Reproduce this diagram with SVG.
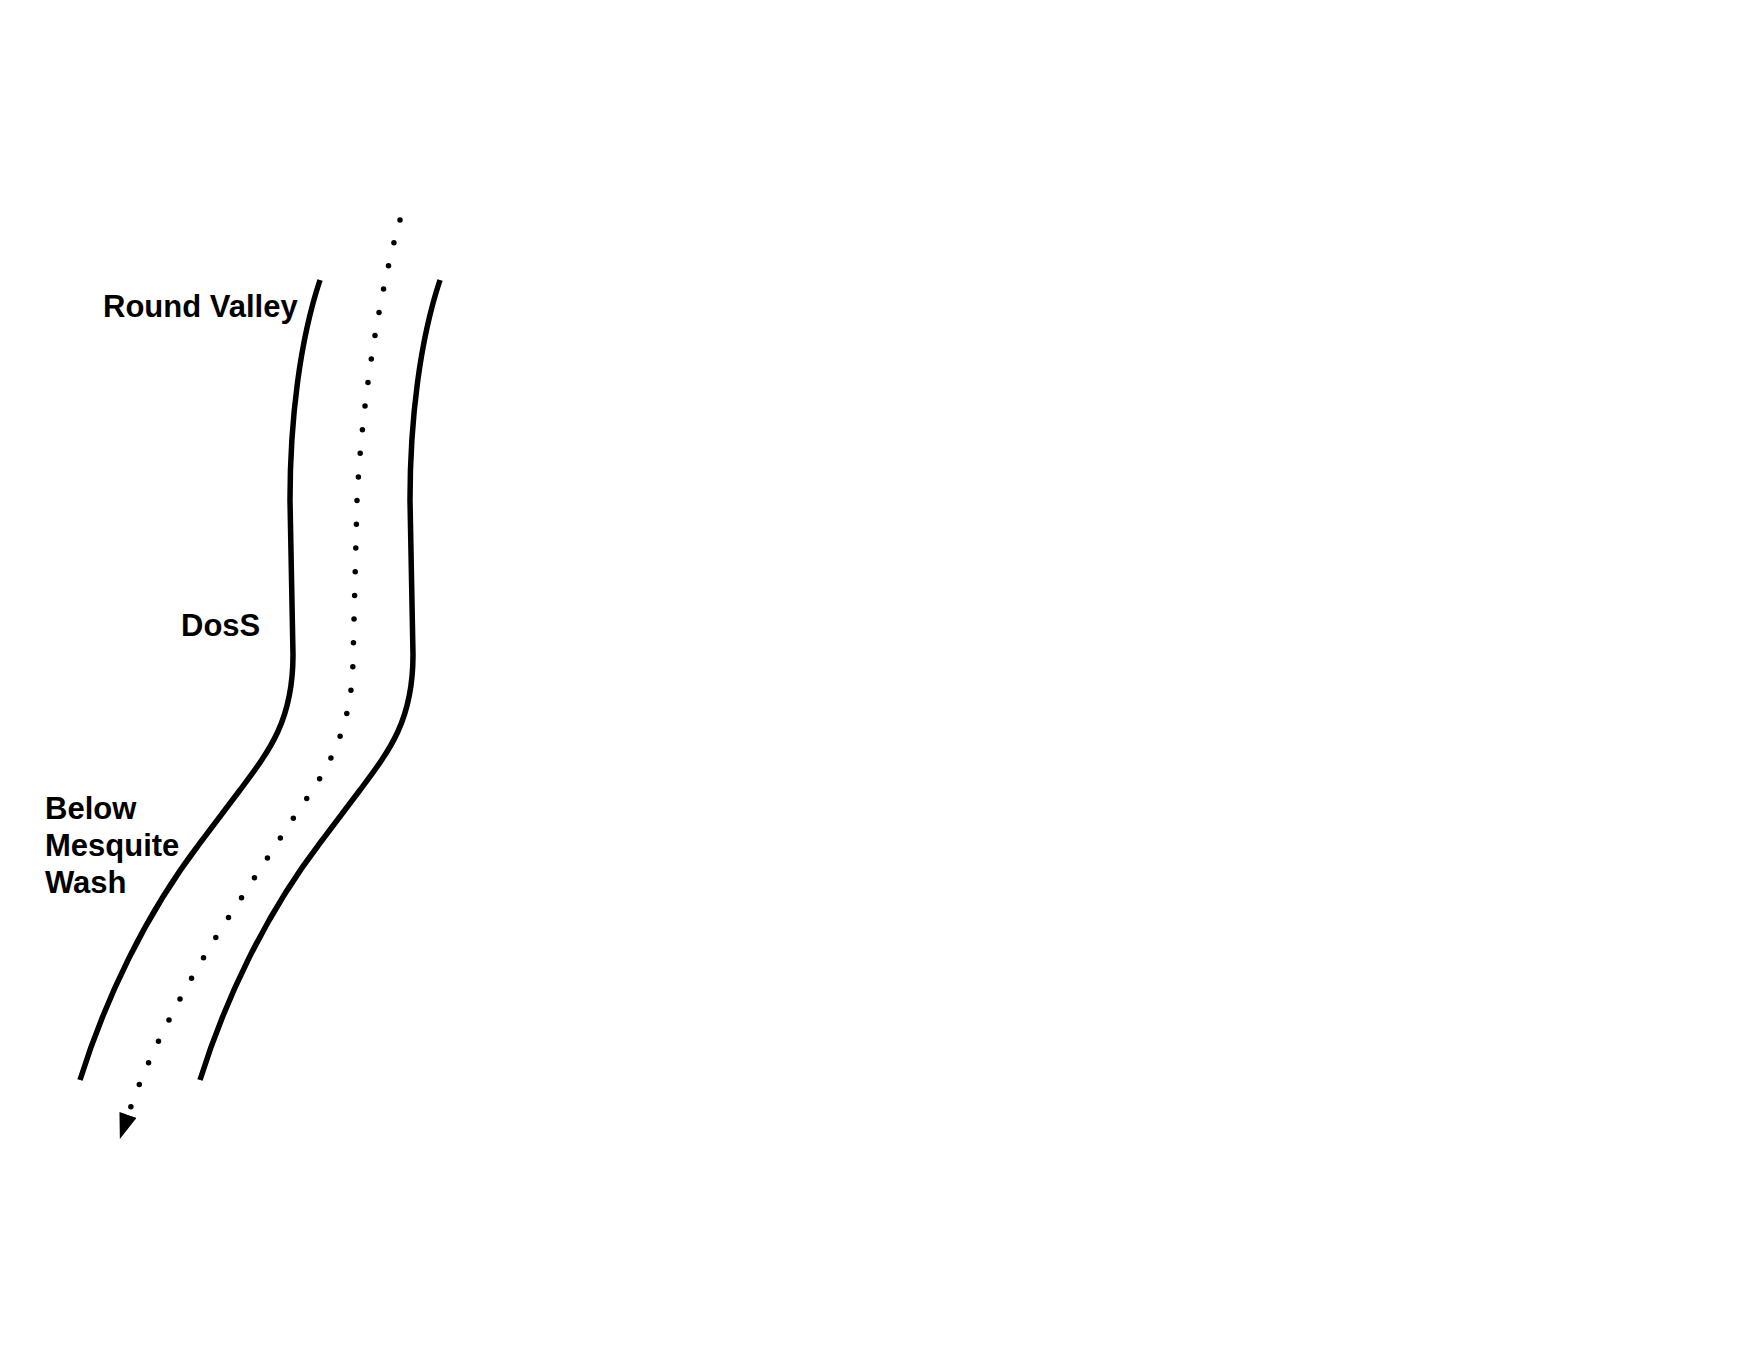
<svg xmlns="http://www.w3.org/2000/svg" width="1760" height="1360" viewBox="0 0 1760 1360">
<style>
.bank{fill:none;stroke:#000;stroke-width:5.5;}
.flow{fill:none;stroke:#000;stroke-width:5.5;stroke-linecap:round;stroke-dasharray:0 23.7;}
.lbl{font-family:"Liberation Sans",Arial,sans-serif;font-weight:bold;font-size:31px;fill:#000;}
</style>
<defs>
<marker id="arrow" markerUnits="userSpaceOnUse" markerWidth="26" markerHeight="18" viewBox="0 0 24 17" refX="0" refY="8.5" orient="auto">
<path d="M0 0 L24 8.5 L0 17 Z" fill="#000"/>
</marker>
</defs>
<rect width="1760" height="1360" fill="#fff"/>
<g id="river">
<path id="left-bank" class="bank" d="M 320 280 C 300 340, 290 420, 290 500 L 293 655 C 293 720, 270 750, 240 790 L 200 843 C 145 915, 105 1000, 80 1080"/>
<path id="right-bank" class="bank" transform="translate(120,0)" d="M 320 280 C 300 340, 290 420, 290 500 L 293 655 C 293 720, 270 750, 240 790 L 200 843 C 145 915, 105 1000, 80 1080"/>
</g>
<g id="connectors">
<path id="flow" class="flow" marker-end="url(#arrow)" d="M 400 220 C 380 290, 362 400, 357 500 L 353 660 C 352 720, 335 760, 300 808 L 240 900 C 190 975, 150 1050, 128 1115"/>
</g>
<g id="label-round-valley"><text class="lbl" x="103" y="317">Round Valley</text></g>
<g id="label-doss"><text class="lbl" x="181" y="636">DosS</text></g>
<g id="label-below-mesquite-wash"><text class="lbl" x="45" y="819">Below</text><text class="lbl" x="45" y="856">Mesquite</text><text class="lbl" x="45" y="893">Wash</text></g>
</svg>
